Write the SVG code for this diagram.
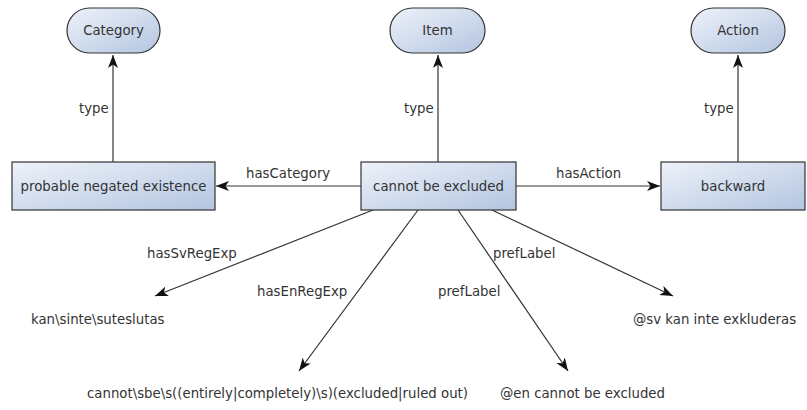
<svg xmlns="http://www.w3.org/2000/svg" width="807" height="410" viewBox="0 0 807 410">
<defs>
<linearGradient id="g" x1="0" y1="0" x2="1" y2="1">
<stop offset="0" stop-color="#eef2fa"/>
<stop offset="1" stop-color="#b3c5e0"/>
</linearGradient>
<marker id="ah" viewBox="0 0 13 10" refX="13" refY="5" markerWidth="13" markerHeight="10" markerUnits="userSpaceOnUse" orient="auto">
<path d="M0,0 L13,5 L0,10 L3.5,5 z" fill="#111"/>
</marker>
<style>
.n{fill:url(#g);stroke:#333;stroke-width:1.2}
.t{font-family:"DejaVu Sans","Liberation Sans",sans-serif;font-size:13.3px;fill:#333}
.c{stroke:#333;stroke-width:1.2;fill:none;marker-end:url(#ah)}
</style>
</defs>
<rect width="807" height="410" fill="#fff"/>
<g id="connectors">
<line class="c" x1="113" y1="162" x2="113" y2="55"/>
<line class="c" x1="438" y1="162" x2="438" y2="55"/>
<line class="c" x1="738" y1="162" x2="738" y2="55"/>
<line class="c" x1="361" y1="186" x2="216" y2="186"/>
<line class="c" x1="516" y1="186" x2="660" y2="186"/>
<line class="c" x1="373" y1="210" x2="155" y2="296"/>
<line class="c" x1="418" y1="210" x2="299" y2="371"/>
<line class="c" x1="458" y1="210" x2="568" y2="371"/>
<line class="c" x1="492" y1="210" x2="673" y2="296"/>
<text class="t" x="79" y="113">type</text>
<text class="t" x="404" y="113">type</text>
<text class="t" x="704" y="113">type</text>
<text class="t" x="246" y="178">hasCategory</text>
<text class="t" x="556" y="178">hasAction</text>
<text class="t" x="147" y="258">hasSvRegExp</text>
<text class="t" x="257" y="296">hasEnRegExp</text>
<text class="t" x="493" y="258">prefLabel</text>
<text class="t" x="438" y="296">prefLabel</text>
</g>
<g id="category"><rect class="n" x="67" y="8" width="93" height="45" rx="22.5"/><text class="t" x="113.5" y="35" text-anchor="middle">Category</text></g>
<g id="item"><rect class="n" x="390" y="8" width="95" height="45" rx="22.5"/><text class="t" x="437.5" y="35" text-anchor="middle">Item</text></g>
<g id="action"><rect class="n" x="691" y="8" width="94" height="45" rx="22.5"/><text class="t" x="738" y="35" text-anchor="middle">Action</text></g>
<g id="probable"><rect class="n" x="12" y="162" width="203" height="48"/><text class="t" x="113.5" y="191" text-anchor="middle">probable negated existence</text></g>
<g id="cannot"><rect class="n" x="361" y="162" width="155" height="48"/><text class="t" x="438.5" y="191" text-anchor="middle">cannot be excluded</text></g>
<g id="backward"><rect class="n" x="661" y="162" width="144" height="48"/><text class="t" x="733" y="191" text-anchor="middle">backward</text></g>
<g id="svregexp"><text class="t" x="31" y="324">kan\sinte\suteslutas</text></g>
<g id="enregexp"><text class="t" x="87" y="398">cannot\sbe\s((entirely|completely)\s)(excluded|ruled out)</text></g>
<g id="enlabel"><text class="t" x="500" y="398">@en cannot be excluded</text></g>
<g id="svlabel"><text class="t" x="633" y="324">@sv kan inte exkluderas</text></g>
</svg>
